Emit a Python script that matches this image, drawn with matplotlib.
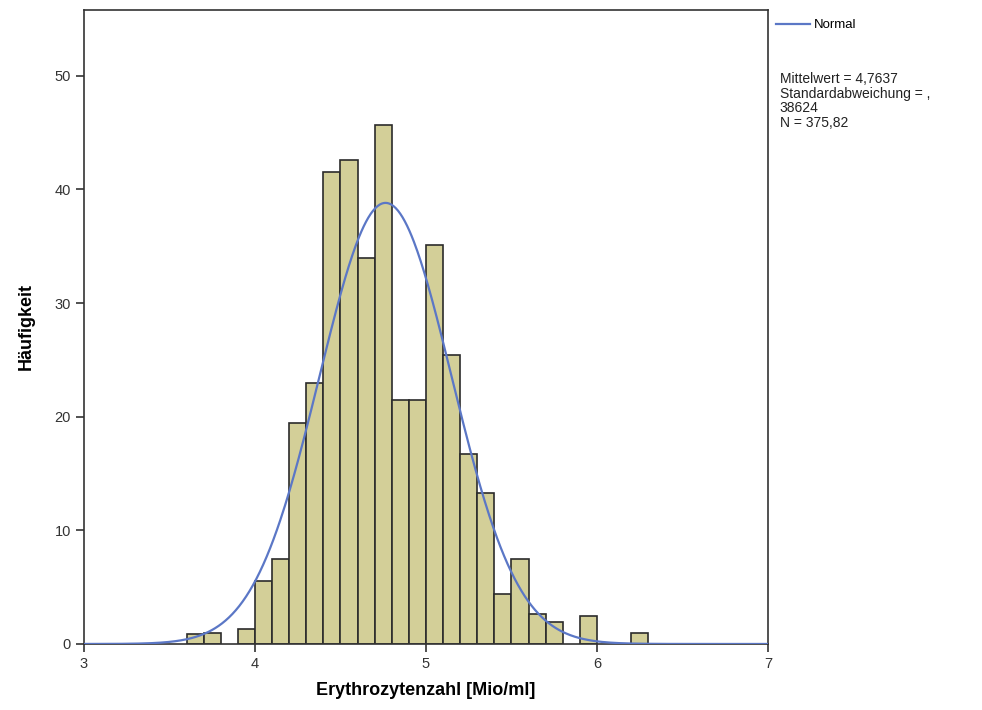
import numpy as np
import matplotlib.pyplot as plt

plt.rcParams['font.family'] = ['Liberation Sans', 'DejaVu Sans']

# bin left edges (width 0.1) and weighted counts
bin_left = [3.6, 3.7, 3.9, 4.0, 4.1, 4.2, 4.3, 4.4, 4.5, 4.6, 4.7, 4.8, 4.9,
            5.0, 5.1, 5.2, 5.3, 5.4, 5.5, 5.6, 5.7, 5.9, 6.2]
counts = [0.88, 1.0, 1.32, 5.55, 7.48, 19.46, 23.0, 41.5, 42.6, 34.0, 45.7, 21.5, 21.45,
          35.1, 25.45, 16.7, 13.3, 4.4, 7.5, 2.6, 1.9, 2.5, 0.97]
bin_width = 0.1

mean = 4.7637
sd = 0.38624
n = 375.82

fig = plt.figure(figsize=(9.82, 7.10), dpi=100)
ax = fig.add_axes([0.0855, 0.093, 0.6965, 0.893])

ax.bar(bin_left, counts, width=bin_width, align='edge', color='#D3CF98',
       edgecolor='#2b2b2b', linewidth=1.2, zorder=2)

xs = np.linspace(3, 7, 600)
ys = n * bin_width / (sd * np.sqrt(2 * np.pi)) * np.exp(-0.5 * ((xs - mean) / sd) ** 2)
line, = ax.plot(xs, ys, color='#5B77C6', linewidth=1.6, zorder=3, label='Normal')

ax.set_xlim(3, 7)
ax.set_ylim(0, 55.8)
ax.set_xticks([3, 4, 5, 6, 7])
ax.set_yticks([0, 10, 20, 30, 40, 50])
ax.tick_params(direction='out', length=6, width=1.2, color='#333333',
               labelsize=10.5, labelcolor='#333333')
for s in ax.spines.values():
    s.set_color('#333333')
    s.set_linewidth(1.2)

ax.set_xlabel('Erythrozytenzahl [Mio/ml]', fontsize=13, fontweight='bold', labelpad=8)
ax.set_ylabel('Häufigkeit', fontsize=13, fontweight='bold', labelpad=14)

ax.legend(handles=[line], loc='upper left', bbox_to_anchor=(1.0, 0.998),
          frameon=False, fontsize=9.5, handlelength=2.6, handletextpad=0.25,
          borderaxespad=0.2)

stats = 'Mittelwert = 4,7637\nStandardabweichung = ,\n38624\nN = 375,82'
fig.text(0.794, 0.899, stats, fontsize=10, va='top', ha='left',
         linespacing=1.08, color='#222222')

fig.savefig('out.png', dpi=100)
